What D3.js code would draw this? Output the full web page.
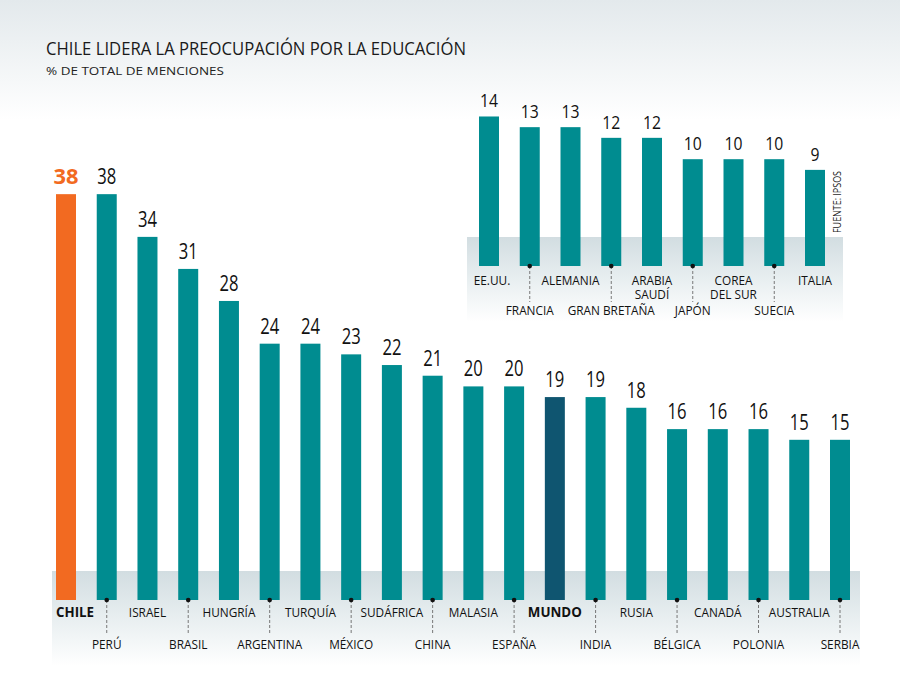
<!DOCTYPE html>
<html><head><meta charset="utf-8">
<script src="https://cdn.jsdelivr.net/npm/d3@7"></script>
<style>
html,body{margin:0;padding:0;background:#fff;}
svg{display:block;}
</style></head>
<body>
<script>
const mainCountries = ["CHILE","PERÚ","ISRAEL","BRASIL","HUNGRÍA","ARGENTINA","TURQUÍA","MÉXICO","SUDÁFRICA","CHINA","MALASIA","ESPAÑA","MUNDO","INDIA","RUSIA","BÉLGICA","CANADÁ","POLONIA","AUSTRALIA","SERBIA"];
const mainValues = [38,38,34,31,28,24,24,23,22,21,20,20,19,19,18,16,16,16,15,15];
const insetCountries = ["EE.UU.","FRANCIA","ALEMANIA","GRAN BRETAÑA","ARABIA SAUDÍ","JAPÓN","COREA DEL SUR","SUECIA","ITALIA"];
const insetLabelLines = [["EE.UU."],["FRANCIA"],["ALEMANIA"],["GRAN BRETAÑA"],["ARABIA","SAUDÍ"],["JAPÓN"],["COREA","DEL SUR"],["SUECIA"],["ITALIA"]];
const insetValues = [14,13,13,12,12,10,10,10,9];

const W = 900, H = 686;
const FONT = "'Open Sans','Noto Sans',sans-serif";
const TEAL = "#008c90", ORANGE = "#f26a21", DARK = "#0f5570";

const svg = d3.select("body").append("svg").attr("width", W).attr("height", H);
const defs = svg.append("defs");
const bg = defs.append("linearGradient").attr("id","bg").attr("x1",0).attr("x2",0).attr("y1",0).attr("y2",1);
bg.append("stop").attr("offset","0").attr("stop-color","#e3e9ec");
bg.append("stop").attr("offset","1").attr("stop-color","#ffffff");
const band = defs.append("linearGradient").attr("id","band").attr("x1",0).attr("x2",0).attr("y1",0).attr("y2",1);
band.append("stop").attr("offset","0").attr("stop-color","#d2dde1");
band.append("stop").attr("offset","0.45").attr("stop-color","#e6edef");
band.append("stop").attr("offset","1").attr("stop-color","#ffffff");

svg.append("rect").attr("width",W).attr("height",H).attr("fill","#fff");
svg.append("rect").attr("width",W).attr("height",120).attr("fill","url(#bg)");

function condense(sel, factor) {
  sel.each(function() {
    const len = this.getComputedTextLength();
    d3.select(this).attr("textLength", len * factor).attr("lengthAdjust","spacingAndGlyphs");
  });
}
function fitTo(sel, width) {
  sel.attr("textLength", width).attr("lengthAdjust","spacingAndGlyphs");
}

// Title
fitTo(svg.append("text").attr("x",46).attr("y",55).attr("font-family",FONT).attr("font-size",17.5)
  .attr("fill","#1a1a1a").text("CHILE LIDERA LA PREOCUPACIÓN POR LA EDUCACIÓN"), 420);
fitTo(svg.append("text").attr("x",46).attr("y",75).attr("font-family",FONT).attr("font-size",11)
  .attr("fill","#222").text("% DE TOTAL DE MENCIONES"), 178);

const probe = svg.append("text").attr("font-family",FONT).attr("font-size",13).text("ARGENTINA");
const LABEL_F = 65 / probe.node().getComputedTextLength();
probe.attr("font-size",21).text("38");
const NUM_F = 19 / probe.node().getComputedTextLength();
probe.attr("font-size",18).text("13");
const INUM_F = 18 / probe.node().getComputedTextLength();
probe.remove();

const unit = 10.68;
const bw = 20;

// ---------- MAIN CHART ----------
const mBase = 600;
const mx = d3.scalePoint().domain(mainCountries).range([66, 840]);
const my = d3.scaleLinear().domain([0, 40]).range([mBase, mBase - 40*unit]);

svg.append("rect").attr("x",52).attr("y",571).attr("width",808).attr("height",95).attr("fill","url(#band)");

const mainData = mainCountries.map((c,i)=>({c, v: mainValues[i], i}));
const mg = svg.append("g");
mg.selectAll("rect.bar").data(mainData).join("rect")
  .attr("x", d => mx(d.c) - bw/2).attr("width", bw)
  .attr("y", d => my(d.v)).attr("height", d => my(0) - my(d.v))
  .attr("fill", d => d.c === "CHILE" ? ORANGE : d.c === "MUNDO" ? DARK : TEAL);

const vals = mg.selectAll("text.val").data(mainData).join("text")
  .attr("x", d => mx(d.c)).attr("y", d => my(d.v) - 10)
  .attr("text-anchor","middle").attr("font-family",FONT).attr("font-size",21)
  .attr("font-weight", d => d.c === "CHILE" ? "bold" : "normal")
  .attr("fill", d => d.c === "CHILE" ? ORANGE : "#111")
  .text(d => d.v);
vals.filter(d => d.c !== "CHILE").call(condense, NUM_F);
vals.filter(d => d.c === "CHILE").call(fitTo, 25);

mainData.forEach(d => {
  const x = mx(d.c);
  if (d.i % 2 === 0) {
    const t = mg.append("text").attr("y",617).attr("font-family",FONT).attr("font-size",13).attr("fill","#111")
      .text(d.c);
    if (d.c === "CHILE") { t.attr("x", 56).attr("text-anchor","start").attr("font-weight","bold").attr("font-size",14); fitTo(t, 38); }
    else if (d.c === "MUNDO") { t.attr("x", x).attr("text-anchor","middle").attr("font-weight","bold").attr("font-size",14); fitTo(t, 54); }
    else { t.attr("x", x).attr("text-anchor","middle"); condense(t, LABEL_F); }
  } else {
    mg.append("line").attr("x1",x).attr("x2",x).attr("y1",600).attr("y2",633)
      .attr("stroke","#777").attr("stroke-width",1).attr("stroke-dasharray","3,2");
    mg.append("circle").attr("cx",x).attr("cy",600).attr("r",2.3).attr("fill","#111");
    const t = mg.append("text").attr("x",x).attr("y",649).attr("text-anchor","middle").attr("font-family",FONT)
      .attr("font-size",13).attr("fill","#111").text(d.c);
    condense(t, LABEL_F);
  }
});

// ---------- INSET CHART ----------
const iBase = 266;
const ix = d3.scalePoint().domain(insetCountries).range([489, 815]);
const iy = d3.scaleLinear().domain([0, 14]).range([iBase, iBase - 14*unit]);
svg.append("rect").attr("x",467).attr("y",237).attr("width",376).attr("height",85).attr("fill","url(#band)");

const insetData = insetCountries.map((c,i)=>({c, v: insetValues[i], i, lines: insetLabelLines[i]}));
const ig = svg.append("g");
ig.selectAll("rect.bar").data(insetData).join("rect")
  .attr("x", d => ix(d.c) - bw/2).attr("width", bw)
  .attr("y", d => iy(d.v)).attr("height", d => iy(0) - iy(d.v))
  .attr("fill", TEAL);
ig.selectAll("text.val").data(insetData).join("text")
  .attr("x", d => ix(d.c)).attr("y", d => iy(d.v) - 9)
  .attr("text-anchor","middle").attr("font-family",FONT).attr("font-size",18)
  .attr("fill","#111").text(d => d.v).call(condense, INUM_F);

insetData.forEach(d => {
  const x = ix(d.c);
  if (d.i % 2 === 0) {
    const t = ig.append("text").attr("x", x + (d.i===0?3:0)).attr("y", 285).attr("text-anchor","middle")
      .attr("font-family",FONT).attr("font-size",13).attr("fill","#111");
    d.lines.forEach((ln, k) => {
      const ts = t.append("tspan").attr("x", x + (d.i===0?3:0)).attr("y", 285 + k*14).text(ln);
      condense(ts, LABEL_F);
    });
  } else {
    ig.append("line").attr("x1",x).attr("x2",x).attr("y1",266).attr("y2",302)
      .attr("stroke","#777").attr("stroke-width",1).attr("stroke-dasharray","3,2");
    ig.append("circle").attr("cx",x).attr("cy",266).attr("r",2.3).attr("fill","#111");
    const t = ig.append("text").attr("x",x).attr("y",315).attr("text-anchor","middle").attr("font-family",FONT)
      .attr("font-size",13).attr("fill","#111").text(d.c);
    condense(t, LABEL_F);
  }
});

// source
fitTo(svg.append("text").attr("transform","translate(841,233) rotate(-90)").attr("font-family",FONT)
  .attr("font-size",10).attr("fill","#222").text("FUENTE: IPSOS"), 62);
</script>
</body></html>
